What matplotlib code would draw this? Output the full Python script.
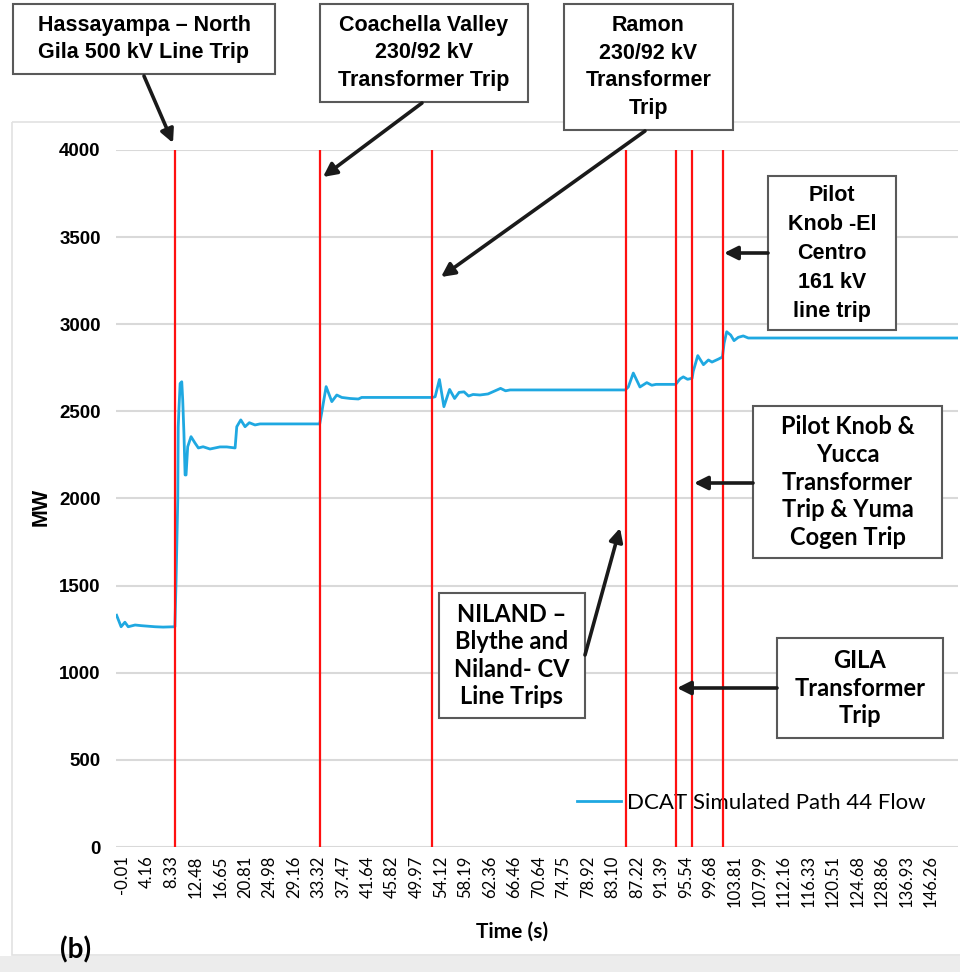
import numpy as np
import matplotlib
matplotlib.use("Agg")
import matplotlib.pyplot as plt
from matplotlib.patches import Rectangle

# x axis is a category axis: one tick label every N samples
time_labels = ['-0.01', '4.16', '8.33', '12.48', '16.65', '20.81', '24.98', '29.16',
               '33.32', '37.47', '41.64', '45.82', '49.97', '54.12', '58.19', '62.36',
               '66.46', '70.64', '74.75', '78.92', '83.10', '87.22', '91.39', '95.54',
               '99.68', '103.81', '107.99', '112.16', '116.33', '120.51', '124.68',
               '128.86', '136.93', '146.26']

# trace, position in tick-label units
trace_pos = [-0.241, -0.057, 0.098, 0.233, 0.514, 0.785, 1.326, 1.655, 2.139,
             2.187, 2.255, 2.274, 2.303, 2.352, 2.419, 2.458, 2.507, 2.555, 2.594, 2.661,
             2.797, 2.961, 3.097, 3.290, 3.571, 3.977, 4.257, 4.596,
             4.664, 4.828, 5.002, 5.176, 5.409, 5.612, 8.050,
             8.127, 8.311, 8.543, 8.746, 8.949, 9.288, 9.626, 9.762, 12.645,
             12.760, 12.935, 13.118, 13.351, 13.554, 13.738, 13.940, 14.124, 14.308,
             14.589, 14.918, 15.430, 15.634, 15.817, 20.519,
             20.645, 20.848, 21.119, 21.399, 21.602, 21.776, 22.579,
             22.753, 22.889, 23.063, 23.247,
             23.295, 23.479, 23.711, 23.914, 24.059, 24.321, 24.485,
             24.553, 24.659, 24.823, 24.959, 25.133, 25.336, 25.540, 34.120]
trace_mw = [1330, 1264, 1290, 1264, 1274, 1270, 1264, 1262, 1264,
            1530, 1990, 2410, 2510, 2660, 2670, 2565, 2376, 2135, 2135, 2297,
            2355, 2318, 2290, 2297, 2284, 2296, 2296, 2290,
            2412, 2451, 2412, 2435, 2422, 2428, 2428,
            2490, 2642, 2556, 2594, 2580, 2574, 2571, 2580, 2580,
            2584, 2683, 2527, 2626, 2574, 2609, 2612, 2588, 2597,
            2594, 2600, 2632, 2618, 2623, 2623,
            2640, 2720, 2640, 2665, 2650, 2655, 2655,
            2686, 2698, 2684, 2690,
            2730, 2820, 2768, 2795, 2783, 2800, 2812,
            2891, 2957, 2938, 2906, 2925, 2933, 2921, 2921]

# trip events (red lines), same units
event_pos = [2.14, 8.06, 12.65, 20.53, 22.59, 23.26, 24.49]

y_ticks = list(range(0, 4001, 500))

W, H = 960, 972
fig = plt.figure(figsize=(W / 100, H / 100), dpi=100)
fig.patch.set_facecolor('white')

ax = fig.add_axes([116 / W, 1 - 847 / H, (958 - 116) / W, (847 - 150) / H])
ax.plot(trace_pos, trace_mw, color='#1fa8e1', lw=2.0, zorder=3,
        label='DCAT Simulated Path 44 Flow')
for p in event_pos:
    ax.axvline(p, color='#ff1010', lw=1.6, zorder=6)

ax.set_xlim(-0.265, 34.10)
ax.set_ylim(0, 4000)
ax.set_yticks(y_ticks)
ax.set_yticklabels([str(v) for v in y_ticks], fontfamily='Liberation Sans',
                   fontweight='bold', fontsize=13.5)
ax.set_xticks(np.arange(len(time_labels)))
ax.set_xticklabels(time_labels, rotation=90, fontfamily='Lato', fontsize=12)
ax.tick_params(axis='both', length=0)
ax.tick_params(axis='y', pad=11)
ax.tick_params(axis='x', pad=6)
ax.grid(axis='y', color='#d9d9d9', lw=1.5)
ax.set_axisbelow(True)
for s in ax.spines.values():
    s.set_visible(False)

ax.set_xlabel('Time (s)', fontfamily='Lato', fontweight='bold', fontsize=15)
ax.xaxis.set_label_coords((512 - 116) / 842, (847 - 922) / 697)
ax.set_ylabel('MW', fontfamily='Liberation Sans', fontweight='bold', fontsize=15.5)
ax.yaxis.set_label_coords((52 - 116) / 842, (847 - 507) / 697)

leg = ax.legend(loc='center left', bbox_to_anchor=((577 - 116) / 842, (847 - 803) / 697),
                frameon=False, borderpad=0, borderaxespad=0, handlelength=2.0,
                handletextpad=0.25, prop={'family': 'Lato', 'size': 16})

# overlay in pixel coords for the callout boxes
ov = fig.add_axes([0, 0, 1, 1], zorder=10)
ov.set_xlim(0, W)
ov.set_ylim(H, 0)
ov.axis('off')
ov.patch.set_visible(False)

ov.add_patch(Rectangle((12, 122), W, 833, fill=False, ec='#e2e2e2', lw=1.2))
ov.add_patch(Rectangle((0, 956), W, 16, fc='#ececec', ec='none'))

narrow = ['Liberation Sans Narrow', 'Liberation Sans']
wide = ['Lato', 'DejaVu Sans']


def note(x0, y0, x1, y1, text, family, size, ls):
    ov.add_patch(Rectangle((x0, y0), x1 - x0, y1 - y0, fc='white', ec='#595959', lw=1.5))
    ov.text((x0 + x1) / 2, (y0 + y1) / 2, text, ha='center', va='center',
            family=family, fontweight='bold', fontsize=size, linespacing=ls)


def arrow(start, tip):
    ov.annotate('', xy=tip, xytext=start,
                arrowprops=dict(arrowstyle='-|>', color='#1a1a1a', lw=2.6,
                                mutation_scale=20, shrinkA=0, shrinkB=0))


note(13, 4, 275, 74, 'Hassayampa – North\nGila 500 kV Line Trip', narrow, 15.5, 1.42)
note(320, 4, 528, 102, 'Coachella Valley\n230/92 kV\nTransformer Trip', narrow, 15.5, 1.42)
note(564, 4, 733, 130, 'Ramon\n230/92 kV\nTransformer\nTrip', narrow, 15.5, 1.42)
note(768, 176, 896, 330, 'Pilot\nKnob -El\nCentro\n161 kV\nline trip', narrow, 15.5, 1.5)
note(753, 406, 942, 558, 'Pilot Knob &\nYucca\nTransformer\nTrip & Yuma\nCogen Trip', wide, 17, 1.24)
note(439, 593, 585, 718, 'NILAND –\nBlythe and\nNiland- CV\nLine Trips', wide, 17, 1.22)
note(777, 638, 943, 738, 'GILA\nTransformer\nTrip', wide, 17, 1.22)

arrow((144, 76), (173, 143))
arrow((422, 103), (323, 177))
arrow((645, 131), (441, 277))
arrow((768, 253), (724, 253))
arrow((753, 483), (694, 483))
arrow((585, 655), (620, 528))
arrow((777, 688), (677, 688))

ov.text(76, 950, '(b)', ha='center', va='center', family=wide, fontweight='bold', fontsize=20)

fig.savefig('out.png', dpi=100)
